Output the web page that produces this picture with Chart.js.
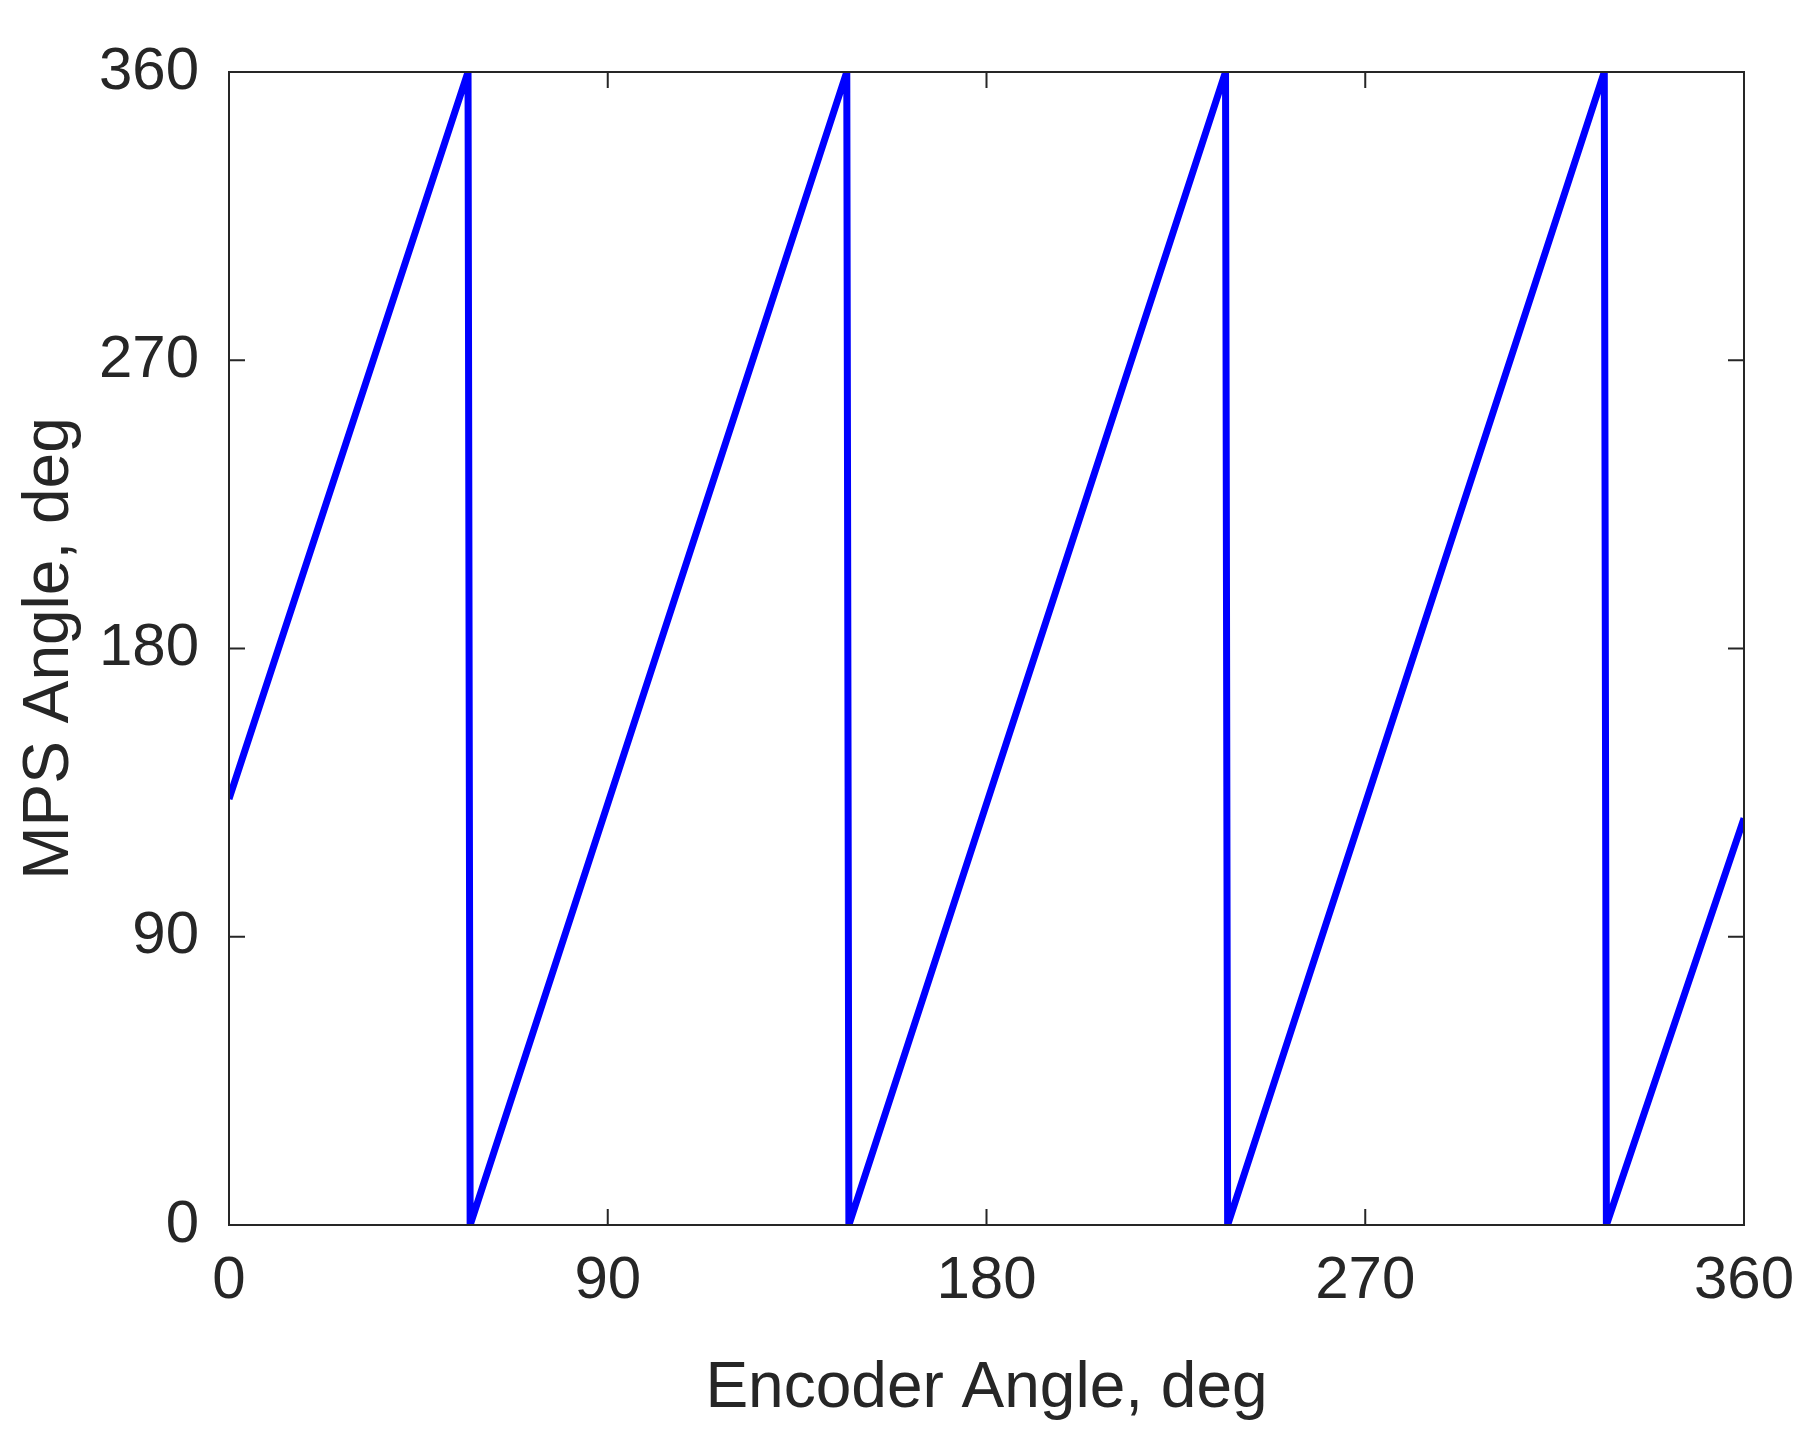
<!DOCTYPE html>
<html>
<head>
<script src="https://cdn.jsdelivr.net/npm/chart.js@4.4.0/dist/chart.umd.min.js"></script>
<style>
  html, body { margin: 0; padding: 0; background: #fff; }
  #wrap { width: 1816px; height: 1450px; }
</style>
</head>
<body>
<div id="wrap"><canvas id="c"></canvas></div>
<script>
// encoder angle vs MPS angle
const encoderAngle = [0, 56.8, 57.3, 146.8, 147.3, 236.8, 237.3, 326.8, 327.3, 360];
const mpsAngle     = [133, 360, 0, 360, 0, 360, 0, 360, 0, 127];
const tickValues = [0, 90, 180, 270, 360];

const FONT = '"Liberation Sans", Arial, sans-serif';
const TXT = '#262626';

// box + inward tick marks like the original figure
const boxTicks = {
  id: 'boxTicks',
  afterDraw(chart) {
    const { ctx, chartArea: a, scales: { x, y } } = chart;
    const len = 16;
    ctx.save();
    ctx.strokeStyle = '#262626';
    ctx.lineWidth = 2;
    ctx.strokeRect(a.left, a.top, a.right - a.left, a.bottom - a.top);
    ctx.beginPath();
    tickValues.forEach(v => {
      const px = x.getPixelForValue(v);
      ctx.moveTo(px, a.bottom); ctx.lineTo(px, a.bottom - len);
      ctx.moveTo(px, a.top); ctx.lineTo(px, a.top + len);
      const py = y.getPixelForValue(v);
      ctx.moveTo(a.left, py); ctx.lineTo(a.left + len, py);
      ctx.moveTo(a.right, py); ctx.lineTo(a.right - len, py);
    });
    ctx.stroke();
    ctx.restore();
  }
};

new Chart(document.getElementById('c'), {
  type: 'line',
  data: {
    datasets: [{
      data: encoderAngle.map((e, i) => ({ x: e, y: mpsAngle[i] })),
      borderColor: '#0000ff',
      borderWidth: 7,
      pointRadius: 0,
      tension: 0,
      fill: false,
    }]
  },
  options: {
    responsive: true,
    maintainAspectRatio: false,
    animation: false,
    layout: { padding: { top: 72, right: 72, left: 0, bottom: 0 } },
    plugins: { legend: { display: false }, tooltip: { enabled: false } },
    scales: {
      x: {
        type: 'linear', min: 0, max: 360,
        afterBuildTicks: s => { s.ticks = tickValues.map(v => ({ value: v })); },
        afterFit: s => { s.height = 225; },
        grid: { display: false },
        border: { display: false },
        ticks: { color: TXT, font: { family: FONT, size: 60 }, padding: 12, maxRotation: 0 },
        title: { display: true, text: 'Encoder Angle, deg', color: TXT, font: { family: FONT, size: 64 }, padding: { top: 0, bottom: 22 } }
      },
      y: {
        type: 'linear', min: 0, max: 360,
        afterBuildTicks: s => { s.ticks = tickValues.map(v => ({ value: v })); },
        afterFit: s => { s.width = 229; },
        grid: { display: false },
        border: { display: false },
        ticks: { color: TXT, font: { family: FONT, size: 60 }, padding: 22 },
        title: { display: true, text: 'MPS Angle, deg', color: TXT, font: { family: FONT, size: 64 }, padding: { top: 12, bottom: 4 } }
      }
    }
  },
  plugins: [boxTicks]
});
</script>
</body>
</html>
